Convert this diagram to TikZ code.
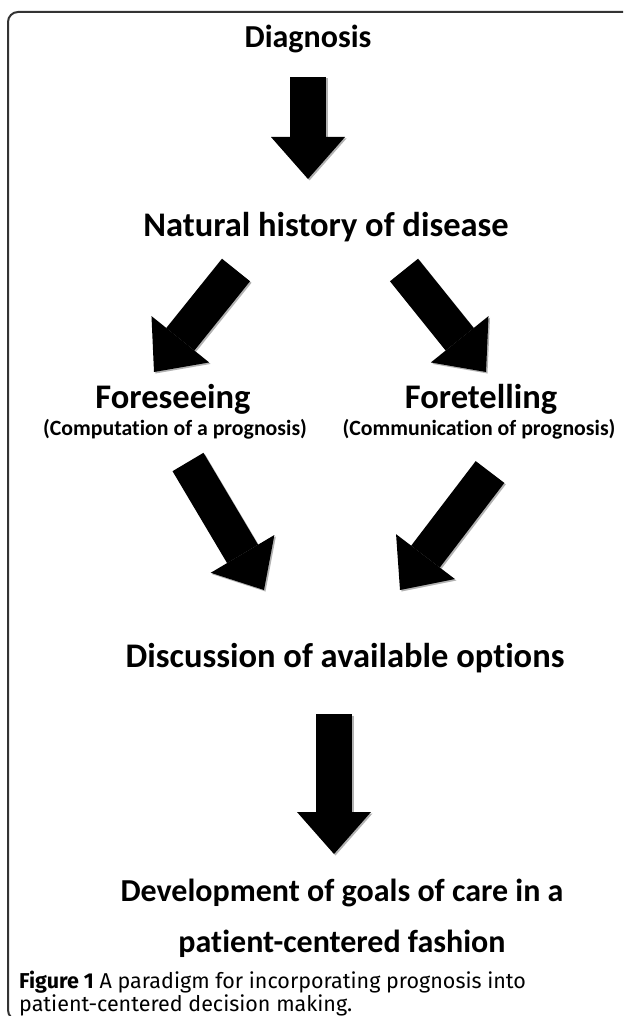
\documentclass[tikz,border=0pt]{standalone}
\usepackage{fontspec}
\setmainfont{Carlito}[Ligatures={NoCommon,NoContextual}, Contextuals=NoAlternate]
\newfontfamily\capfont{Fira Sans}
\usetikzlibrary{arrows.meta}

\begin{document}
\begin{tikzpicture}[x=1pt,y=-1pt,
  headtext/.style={font=\bfseries\fontsize{34.5}{48}\selectfont, text=black, inner sep=0pt, align=center},
  subtext/.style={font=\bfseries\fontsize{21.8}{27}\selectfont, text=black, inner sep=0pt},
  bigarrow/.style={line width=36pt, -{Triangle[width=74pt,length=42pt,line width=0pt]}}]
		\useasboundingbox (0,0) rectangle (623,1016);

		% Frame
		\begin{scope}
		\clip (0,0) rectangle (623,1016);
		\draw[line width=2pt, draw=black!80, rounded corners=10pt] (650,12) -| (8,1020) -- (650,1020);
		\end{scope}

		% Nodes
		\node[headtext, font=\bfseries\fontsize{32}{48}\selectfont] (diag) at (308,39) {Diagnosis};
		\node[headtext] (nat) at (326,227) {Natural history of disease};
		\node[headtext] (fores) at (173,399) {Foreseeing};
		\node[subtext] (compu) at (175,429) {(Computation of a prognosis)};
		\node[headtext] (foret) at (481,399) {Foretelling};
		\node[subtext] (commu) at (479,429) {(Communication of prognosis)};
		\node[headtext] (disc) at (345,658) {Discussion of available options};
		\node[headtext, font=\bfseries\fontsize{32}{51}\selectfont] (devel) at (342,918)
		  {Development of goals of care in a\\ patient-centered fashion};
		\node[anchor=north west, inner sep=0pt, align=left, text=black,
		  font=\capfont\fontsize{21.5}{23}\selectfont] (cap) at (19,971)
		  {\textbf{Figure 1} A paradigm for incorporating prognosis into\\ patient-centered decision making.};

		% Arrow ends
		\coordinate (a1t) at (308,77);  \coordinate (a1h) at (308,179);
		\coordinate (a2t) at (236,270); \coordinate (a2h) at (154,372);
		\coordinate (a3t) at (404,270); \coordinate (a3h) at (486,372);
		\coordinate (a4t) at (188,462); \coordinate (a4h) at (264,590);
		\coordinate (a5t) at (490,472); \coordinate (a5h) at (400,590);
		\coordinate (a6t) at (334,714); \coordinate (a6h) at (334,854);

		% Arrows (with a soft shadow)
		\foreach \t/\h in {a1t/a1h, a2t/a2h, a3t/a3h, a4t/a4h, a5t/a5h, a6t/a6h} {
		  \draw[bigarrow, black!30, transform canvas={shift={(1.5pt,-1.5pt)}}] (\t) -- (\h);
		  \draw[bigarrow] (\t) -- (\h);
		}
\end{tikzpicture}
\end{document}
